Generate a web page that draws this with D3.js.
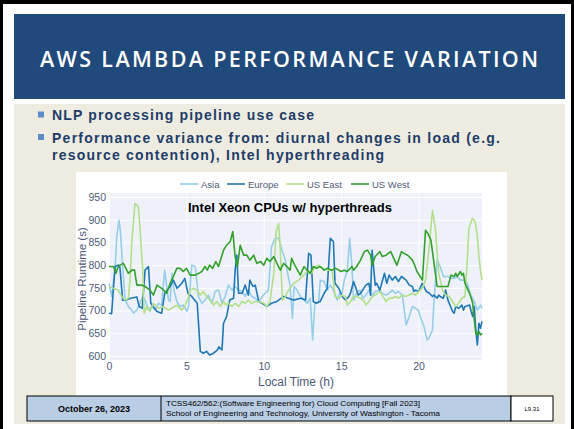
<!DOCTYPE html>
<html lang="en">
<head>
<meta charset="utf-8">
<title>AWS Lambda Performance Variation</title>
<script src="https://cdn.jsdelivr.net/npm/d3@7"></script>
<style>
  body { margin: 0; background: #fff; }
  svg { display: block; }
</style>
</head>
<body>
<script>
// series: [local hour, pipeline runtime (s)]
var asia = [[0,760],[0.17,731],[0.39,789],[0.5,863],[0.65,899],[0.75,870],[0.88,797],[1.04,723],[1.25,709],[1.47,701],[1.57,694],[1.8,701],[2.0,716],[2.18,731],[2.33,723],[2.55,701],[2.76,709],[2.98,701],[3.2,716],[3.4,712],[3.6,789],[3.84,723],[3.95,720],[4.06,782],[4.2,745],[4.38,720],[4.6,709],[4.8,712],[5.03,698],[5.14,709],[5.35,800],[5.57,797],[5.78,731],[6.0,716],[6.2,723],[6.43,734],[6.65,716],[6.86,742],[7.08,745],[7.3,716],[7.5,731],[7.72,756],[7.94,745],[8.15,753],[8.37,745],[8.6,742],[8.8,731],[9.0,745],[9.23,731],[9.45,727],[9.67,720],[9.9,731],[10.1,738],[10.3,745],[10.5,841],[10.74,859],[10.96,859],[11.18,833],[11.4,811],[11.5,789],[11.7,756],[11.85,683],[11.96,753],[12.15,745],[12.36,731],[12.6,723],[12.8,716],[13.0,727],[13.16,635],[13.3,716],[13.55,720],[13.65,767],[13.9,764],[14.1,745],[14.3,756],[14.5,745],[14.75,723],[14.9,738],[15.06,738],[15.2,767],[15.4,789],[15.55,859],[15.7,797],[15.8,723],[16.0,738],[16.2,745],[16.4,727],[16.6,734],[16.8,745],[17.0,734],[17.2,742],[17.5,745],[17.65,738],[17.9,734],[18.1,738],[18.3,745],[18.5,738],[18.7,742],[18.95,734],[19.05,709],[19.2,668],[19.4,687],[19.6,709],[19.8,705],[20.0,701],[20.1,687],[20.35,665],[20.55,635],[20.67,639],[20.9,657],[21.0,723],[21.2,811],[21.4,797],[21.6,775],[21.9,775],[22.1,771],[22.3,771],[22.5,775],[22.7,767],[22.9,767],[23.15,760],[23.37,734],[23.6,720],[23.8,701],[23.9,705],[24.0,712],[24.1,705]];

var europe = [[0,694],[0.17,693],[0.39,797],[0.6,800],[0.7,797],[0.88,723],[1.1,723],[1.4,727],[1.8,730],[1.95,709],[2.15,705],[2.33,789],[2.55,797],[2.7,716],[3.1,698],[3.4,694],[3.6,738],[3.95,753],[4.16,767],[4.4,749],[4.7,760],[4.9,771],[5.1,738],[5.35,731],[5.7,716],[5.9,610],[6.1,606],[6.3,610],[6.5,602],[6.75,606],[7.0,613],[7.1,620],[7.3,613],[7.4,672],[7.6,687],[7.8,723],[8.05,727],[8.15,789],[8.26,822],[8.37,738],[8.6,738],[8.8,756],[9.0,734],[9.1,767],[9.3,753],[9.45,756],[9.67,720],[9.9,716],[10.2,709],[10.5,716],[10.85,720],[11.3,731],[11.6,727],[11.9,723],[12.4,727],[12.7,723],[12.9,826],[13.05,822],[13.2,720],[13.4,716],[13.65,720],[13.9,738],[14.1,749],[14.3,859],[14.5,852],[14.6,760],[14.85,749],[15.06,731],[15.3,723],[15.5,731],[15.6,738],[15.8,764],[16.0,745],[16.1,734],[16.25,738],[16.6,756],[16.8,760],[16.9,734],[17.0,833],[17.2,756],[17.3,760],[17.5,745],[17.8,782],[17.95,760],[18.1,778],[18.3,767],[18.5,775],[18.7,764],[18.9,775],[19.2,767],[19.4,756],[19.6,753],[19.7,742],[19.8,745],[20.0,742],[20.24,760],[20.5,742],[20.7,738],[20.9,731],[21.0,734],[21.2,727],[21.3,734],[21.4,731],[21.6,727],[21.75,745],[21.9,723],[22.2,698],[22.3,694],[22.4,709],[22.6,705],[22.8,712],[22.9,701],[23.0,709],[23.3,712],[23.4,698],[23.5,687],[23.6,709],[23.7,657],[23.8,624],[23.9,672],[24.0,661],[24.1,676]];

var usEast = [[0,753],[0.28,749],[0.6,745],[0.82,731],[1.04,723],[1.25,727],[1.36,767],[1.47,848],[1.68,936],[1.9,929],[2.0,881],[2.18,789],[2.27,694],[2.44,709],[2.65,698],[2.87,716],[3.2,705],[3.5,709],[3.84,701],[4.06,705],[4.38,712],[4.7,701],[4.9,709],[5.14,731],[5.24,745],[5.46,749],[5.67,745],[5.9,734],[6.1,742],[6.3,731],[6.5,723],[6.75,712],[6.97,720],[7.2,709],[7.4,720],[7.55,712],[7.72,716],[7.94,709],[8.15,716],[8.37,709],[8.6,720],[8.8,716],[9.0,723],[9.2,716],[9.45,720],[9.67,720],[10.0,716],[10.2,709],[10.4,720],[10.5,745],[10.65,782],[10.8,874],[10.96,892],[11.07,833],[11.2,723],[11.4,731],[11.6,745],[11.93,760],[12.25,767],[12.5,775],[12.8,786],[13.1,782],[13.3,797],[13.55,800],[13.77,793],[14.1,789],[14.4,789],[14.5,767],[14.6,731],[14.85,727],[15.06,734],[15.28,731],[15.4,712],[15.6,720],[15.8,731],[16.0,731],[16.25,727],[16.5,720],[16.6,712],[16.8,720],[17.0,731],[17.2,734],[17.5,742],[17.65,734],[17.9,720],[18.1,727],[18.3,727],[18.5,731],[18.7,727],[18.95,734],[19.15,731],[19.4,734],[19.6,738],[19.8,734],[20.0,742],[20.24,749],[20.45,767],[20.67,833],[20.9,921],[21.1,877],[21.3,782],[21.55,745],[21.75,734],[21.97,731],[22.2,720],[22.4,709],[22.6,716],[22.8,727],[23.0,731],[23.15,811],[23.25,881],[23.47,903],[23.6,899],[23.7,888],[23.8,863],[23.9,819],[24.0,789],[24.1,767]];

var usWest = [[0,797],[0.28,797],[0.45,782],[0.55,793],[0.7,800],[0.93,804],[1.25,782],[1.47,789],[1.65,789],[1.8,756],[2.1,756],[2.33,753],[2.65,745],[2.87,734],[3.1,756],[3.4,749],[3.73,738],[3.95,760],[4.16,775],[4.38,793],[4.6,793],[4.8,786],[5.0,793],[5.25,778],[5.57,778],[5.8,782],[6.0,786],[6.2,797],[6.35,789],[6.5,800],[6.7,793],[6.9,808],[7.08,797],[7.2,811],[7.4,833],[7.6,844],[7.83,852],[8.0,874],[8.15,819],[8.3,797],[8.48,844],[8.7,822],[8.9,822],[9.1,811],[9.35,822],[9.55,804],[9.8,808],[10.0,800],[10.2,815],[10.4,808],[10.65,819],[10.85,804],[11.07,789],[11.28,804],[11.5,797],[11.7,789],[11.8,815],[12.0,800],[12.36,778],[12.6,797],[12.8,789],[13.0,782],[13.2,797],[13.4,793],[13.65,797],[13.9,789],[14.1,793],[14.4,789],[14.65,793],[15.0,786],[15.2,789],[15.4,786],[15.7,797],[15.8,789],[16.0,797],[16.25,811],[16.5,830],[16.7,833],[16.9,822],[17.0,800],[17.2,819],[17.5,830],[17.65,819],[17.9,822],[18.2,830],[18.4,815],[18.6,800],[18.9,830],[19.05,826],[19.3,822],[19.6,811],[19.7,804],[19.9,786],[20.25,767],[20.45,877],[20.6,870],[20.8,855],[21.0,804],[21.2,753],[21.55,753],[21.9,753],[22.1,778],[22.3,775],[22.4,782],[22.5,775],[22.7,786],[22.8,778],[22.9,782],[23.0,760],[23.3,738],[23.5,716],[23.6,680],[23.7,650],[23.8,646],[23.9,654],[24.0,646],[24.1,650]];

var seriesNames = ["Asia", "Europe", "US East", "US West"];
var seriesData = [asia, europe, usEast, usWest];
var seriesColors = ["#96cde9", "#1f78b4", "#b2df8a", "#33a02c"];

var xTicks = [0, 5, 10, 15, 20];
var yTicks = [600, 650, 700, 750, 800, 850, 900, 950];

var bullets = [
    "NLP processing pipeline use case",
    "Performance variance from: diurnal changes in load (e.g.",
    "resource contention), Intel hyperthreading"
];

var W = 574, H = 429;

var svg = d3.select("body")
    .append("svg")
    .attr("width", W)
    .attr("height", H);

// slide frame
svg.append("rect").attr("width", W).attr("height", H).attr("fill", "#000");
svg.append("rect").attr("x", 3).attr("y", 4).attr("width", W - 6).attr("height", H - 4).attr("fill", "#fff");

// title bar
svg.append("rect").attr("x", 14).attr("y", 14).attr("width", 551).attr("height", 85).attr("fill", "#214a7c");
svg.append("text")
    .attr("x", 40).attr("y", 67)
    .attr("textLength", 498).attr("lengthAdjust", "spacing")
    .attr("font-family", "Open Sans, Liberation Sans, sans-serif")
    .attr("font-weight", 600)
    .attr("font-size", 21.5)
    .attr("fill", "#fff")
    .text("AWS LAMBDA PERFORMANCE VARIATION");

// content area
svg.append("rect").attr("x", 14).attr("y", 104).attr("width", 551).attr("height", 320).attr("fill", "#eeece1");

// bullets
var bulletY = [120, 142.5, 160];
var bulletLen = [262, 448, 332];
bullets.forEach(function(t, i) {
    if (i != 2) {
        svg.append("rect")
            .attr("x", 38).attr("y", bulletY[i] - 8.5)
            .attr("width", 6).attr("height", 6)
            .attr("fill", "#5b8bc9");
    }
    svg.append("text")
        .attr("x", 52).attr("y", bulletY[i])
        .attr("textLength", bulletLen[i]).attr("lengthAdjust", "spacing")
        .attr("font-family", "Liberation Sans, Arial, sans-serif")
        .attr("font-weight", "bold")
        .attr("font-size", 14)
        .attr("fill", "#213c69")
        .text(t);
});

// chart panel
svg.append("rect").attr("x", 76).attr("y", 172).attr("width", 431).attr("height", 224).attr("fill", "#fff");

var x = d3.scaleLinear().domain([0, 24.1]).range([109, 482]);
var y = d3.scaleLinear().domain([591, 959]).range([360, 193]);

svg.append("rect")
    .attr("x", x(0)).attr("y", y(959))
    .attr("width", x(24.1) - x(0)).attr("height", y(591) - y(959))
    .attr("fill", "#eef1fa");

// grid
svg.append("g")
    .attr("transform", "translate(0," + y(591) + ")")
    .call(d3.axisBottom(x).tickValues(xTicks).tickSize(-(y(591) - y(959))).tickFormat(""))
    .call(function(g) {
        g.select(".domain").remove();
        g.selectAll("line").attr("stroke", "#fff").attr("stroke-width", 1);
    });
svg.append("g")
    .attr("transform", "translate(" + x(0) + ",0)")
    .call(d3.axisLeft(y).tickValues(yTicks).tickSize(-(x(24.1) - x(0))).tickFormat(""))
    .call(function(g) {
        g.select(".domain").remove();
        g.selectAll("line").attr("stroke", "#fff").attr("stroke-width", 1);
    });

// tick labels
var tickFont = "Liberation Sans, Arial, sans-serif";
svg.append("g")
    .attr("transform", "translate(0," + y(591) + ")")
    .call(d3.axisBottom(x).tickValues(xTicks).tickSize(0).tickPadding(3))
    .call(function(g) {
        g.select(".domain").remove();
        g.selectAll("text").attr("font-family", tickFont).attr("font-size", 10.5).attr("fill", "#4d5a77");
    });
svg.append("g")
    .attr("transform", "translate(" + (x(0) - 2) + ",0)")
    .call(d3.axisLeft(y).tickValues(yTicks).tickSize(0).tickPadding(1))
    .call(function(g) {
        g.select(".domain").remove();
        g.selectAll("text").attr("font-family", tickFont).attr("font-size", 10.5).attr("fill", "#4d5a77");
    });

// axis titles
svg.append("text")
    .attr("x", 296).attr("y", 386)
    .attr("text-anchor", "middle")
    .attr("font-family", tickFont).attr("font-size", 12)
    .attr("fill", "#4d5a77")
    .text("Local Time (h)");
svg.append("text")
    .attr("transform", "translate(86,279) rotate(-90)")
    .attr("text-anchor", "middle")
    .attr("font-family", tickFont).attr("font-size", 11.5)
    .attr("fill", "#4d5a77")
    .text("Pipeline Runtime (s)");

// lines
var line = d3.line()
    .x(function(d) { return x(d[0]); })
    .y(function(d) { return y(d[1]); });

svg.append("g")
    .selectAll("path")
    .data(seriesData)
    .enter()
    .append("path")
    .attr("d", line)
    .attr("fill", "none")
    .attr("stroke", function(d, i) { return seriesColors[i]; })
    .attr("stroke-width", 1.6)
    .attr("stroke-linejoin", "round");

// chart title
svg.append("text")
    .attr("x", 188).attr("y", 212)
    .attr("textLength", 204).attr("lengthAdjust", "spacingAndGlyphs")
    .attr("font-family", tickFont).attr("font-weight", "bold").attr("font-size", 12.5)
    .attr("fill", "#000")
    .text("Intel Xeon CPUs w/ hyperthreads");

// legend
var legendX = [180, 227, 286, 351];
var legend = svg.append("g")
    .selectAll("g")
    .data(seriesNames)
    .enter()
    .append("g")
    .attr("transform", function(d, i) { return "translate(" + legendX[i] + ",184)"; });
legend.append("line")
    .attr("x1", 0).attr("x2", 18)
    .attr("stroke", function(d, i) { return seriesColors[i]; })
    .attr("stroke-width", 1.6);
legend.append("text")
    .attr("x", 21).attr("y", 3.5)
    .attr("font-family", tickFont).attr("font-size", 9.5)
    .attr("fill", "#4d5a77")
    .text(function(d) { return d; });

// footer table
var foot = svg.append("g");
foot.append("rect").attr("x", 27).attr("y", 396).attr("width", 484).attr("height", 25)
    .attr("fill", "#b9cde5").attr("stroke", "#000").attr("stroke-width", 1);
foot.append("line").attr("x1", 161).attr("x2", 161).attr("y1", 396).attr("y2", 421).attr("stroke", "#000");
foot.append("rect").attr("x", 511).attr("y", 396).attr("width", 42).attr("height", 25)
    .attr("fill", "#fff").attr("stroke", "#000").attr("stroke-width", 1);
foot.append("text")
    .attr("x", 94).attr("y", 412)
    .attr("text-anchor", "middle")
    .attr("font-family", "Liberation Sans, Arial, sans-serif")
    .attr("font-weight", "bold").attr("font-size", 9)
    .attr("fill", "#000")
    .text("October 26, 2023");
foot.append("text")
    .attr("x", 166).attr("y", 406)
    .attr("textLength", 254).attr("lengthAdjust", "spacingAndGlyphs")
    .attr("font-family", "Liberation Sans, Arial, sans-serif").attr("font-size", 7.5)
    .attr("fill", "#000")
    .text("TCSS462/562:(Software Engineering for) Cloud Computing [Fall 2023]");
foot.append("text")
    .attr("x", 166).attr("y", 416)
    .attr("textLength", 274).attr("lengthAdjust", "spacingAndGlyphs")
    .attr("font-family", "Liberation Sans, Arial, sans-serif").attr("font-size", 7.5)
    .attr("fill", "#000")
    .text("School of Engineering and Technology, University of Washington - Tacoma");
foot.append("text")
    .attr("x", 532).attr("y", 411)
    .attr("text-anchor", "middle")
    .attr("font-family", "Liberation Sans, Arial, sans-serif").attr("font-size", 6)
    .attr("fill", "#000")
    .text("L9.31");
</script>
</body>
</html>
